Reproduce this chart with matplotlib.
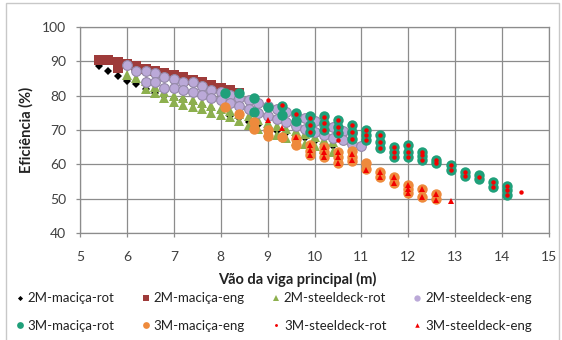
import matplotlib
matplotlib.use("Agg")
import matplotlib.pyplot as plt
from matplotlib.lines import Line2D
from matplotlib.patches import Rectangle

plt.rcParams['font.family'] = ['Lato', 'DejaVu Sans']

# ---------------- data ----------------
labels = ["2M-maciça-rot", "2M-maciça-eng", "2M-steeldeck-rot", "2M-steeldeck-eng",
          "3M-maciça-rot", "3M-maciça-eng", "3M-steeldeck-rot", "3M-steeldeck-eng"]

m2_rot_x = [5.4, 5.6, 5.8, 6.0, 6.2, 6.4, 6.6, 6.8, 7.0, 7.2, 7.4, 7.6, 7.8, 8.0, 8.2,
            8.4, 8.6, 8.8, 9.0, 9.2, 9.4, 9.6, 9.8, 10.0, 10.2, 10.4]
m2_rot_y = [88.5, 87.2, 85.8, 84.3, 83.3, 81.8, 80.8, 79.8, 79.0, 78.6, 77.8, 77.0, 76.0,
            75.2, 74.2, 73.4, 72.4, 71.6, 70.6, 69.8, 69.0, 68.2, 67.6, 66.8, 66.0, 65.4]

m2_eng_x = [5.4, 5.6, 5.8, 5.8, 6.0, 6.2, 6.4, 6.6, 6.8, 7.0, 7.2, 7.4, 7.6, 7.8, 8.0, 8.2, 8.4]
m2_eng_y = [90.3, 90.3, 89.9, 88.0, 89.2, 88.6, 87.9, 87.2, 86.6, 86.0, 85.3, 84.6, 83.9,
            83.1, 82.3, 81.6, 80.8]

s2_rot_x = [6.0, 6.2, 6.4, 6.6, 6.8, 7.0, 7.2, 7.4, 7.6, 7.8, 8.0, 8.2, 8.4, 8.6, 8.8, 9.0,
            9.2, 9.4, 9.6, 9.8, 10.0, 10.2, 10.4,
            6.4, 6.6, 6.8, 7.0, 7.2, 7.4, 7.6, 7.8, 8.0, 8.2, 8.4, 8.6, 8.8, 9.0, 9.2, 9.4,
            9.6, 9.8, 10.0, 10.2, 10.4]
s2_rot_y = [86.0, 85.2, 84.4, 82.6, 81.2, 80.0, 79.4, 78.6, 77.8, 77.0, 76.2, 75.6, 74.8,
            74.0, 73.0, 72.0, 71.2, 70.4, 69.6, 68.8, 68.0, 67.2, 66.4,
            82.0, 80.8, 79.2, 78.2, 77.3, 76.6, 76.0, 74.9, 74.4, 73.8, 72.6, 71.4, 70.2,
            69.4, 68.6, 67.6, 66.8, 66.0, 65.2, 64.4, 63.6]

s2_eng_x = [6.0, 6.2, 6.4, 6.6, 6.8, 7.0, 7.2, 7.4, 7.6, 7.8, 8.0, 8.2, 8.4, 8.6, 8.8, 9.0,
            9.2, 9.4, 9.6, 9.8, 10.0, 10.2, 10.4, 10.6, 10.8,
            6.4, 6.6, 6.8, 7.0, 7.2, 7.4, 7.6, 7.8, 8.0, 8.2, 8.4, 8.6, 8.8, 9.0, 9.2, 9.4,
            9.6, 9.8, 10.0, 10.2, 10.4, 10.6, 10.8, 11.0]
s2_eng_y = [88.9, 87.2, 87.2, 86.6, 85.4, 85.0, 84.0, 84.0, 82.8, 81.6, 81.0, 80.2, 79.4,
            78.6, 77.8, 77.0, 76.0, 75.2, 74.4, 73.4, 72.6, 71.6, 70.8, 69.8, 69.0,
            84.0, 84.0, 82.2, 82.2, 81.6, 81.0, 80.2, 79.3, 78.6, 77.8, 77.0, 76.0, 75.0,
            74.2, 73.2, 72.2, 71.2, 70.2, 69.4, 68.6, 67.8, 67.0, 66.0, 65.2]

m3_rot_x = [8.1, 8.4, 8.7, 8.7, 9.0, 9.3, 9.3, 9.6, 9.6, 9.9, 9.9, 9.9, 10.2, 10.2, 10.2,
            10.5, 10.5, 10.5, 10.8, 10.8, 10.8, 11.1, 11.1, 11.1, 11.4, 11.4, 11.4,
            11.7, 11.7, 11.7, 12.0, 12.0, 12.0, 12.3, 12.3, 12.3, 12.6, 12.6, 12.9, 12.9,
            13.2, 13.2, 13.5, 13.5, 13.8, 13.8, 14.1, 14.1, 14.1]
m3_rot_y = [80.7, 80.7, 79.2, 75.3, 76.8, 77.0, 74.5, 75.0, 72.5, 74.0, 71.5, 69.5, 74.0,
            72.0, 70.0, 73.0, 71.0, 69.0, 71.5, 69.5, 67.5, 70.0, 68.5, 67.0, 68.5, 66.6,
            64.7, 65.1, 63.6, 62.2, 65.6, 63.6, 62.0, 63.6, 62.4, 61.2, 61.4, 60.3, 59.8,
            58.3, 57.8, 56.6, 57.0, 55.6, 54.9, 53.3, 53.6, 52.5, 51.0]

m3_eng_x = [8.1, 8.4, 8.7, 8.7, 9.0, 9.0, 9.3, 9.6, 9.6, 9.9, 9.9, 9.9, 10.2, 10.2, 10.2,
            10.5, 10.5, 10.5, 10.8, 10.8, 10.8, 11.1, 11.1, 11.4, 11.4, 11.7, 11.7,
            12.0, 12.0, 12.0, 12.3, 12.3, 12.6, 12.6]
m3_eng_y = [76.8, 74.6, 72.4, 70.2, 70.0, 68.3, 68.0, 67.5, 65.5, 65.6, 64.0, 62.7, 65.0,
            63.6, 62.2, 63.6, 62.2, 60.3, 64.0, 62.2, 61.0, 60.3, 58.5, 57.8, 56.2, 56.2,
            54.6, 53.9, 52.7, 51.7, 52.7, 50.5, 51.5, 49.8]

s3_rot_x = [9.0, 9.3, 9.6, 9.9, 9.9, 9.9, 10.2, 10.2, 10.2, 10.5, 10.5, 10.5, 10.5,
            10.8, 10.8, 10.8, 11.1, 11.1, 11.1, 11.4, 11.4, 11.4, 11.7, 11.7, 11.7,
            12.0, 12.0, 12.0, 12.3, 12.3, 12.3, 12.6, 12.6, 12.9, 12.9, 13.2, 13.2,
            13.5, 13.8, 13.8, 14.1, 14.1, 14.1, 14.4]
s3_rot_y = [78.7, 77.3, 74.8, 73.4, 71.4, 69.5, 73.9, 71.9, 70.0, 72.9, 70.9, 69.0, 67.1,
            71.4, 69.5, 67.5, 70.0, 68.5, 67.1, 68.5, 66.6, 64.7, 65.1, 63.6, 62.2,
            65.6, 63.6, 62.0, 63.6, 62.7, 61.2, 61.4, 60.3, 59.8, 58.3, 57.8, 56.6,
            56.2, 54.9, 53.3, 53.6, 52.5, 51.0, 51.8]

s3_eng_x = [9.0, 9.3, 9.6, 9.9, 9.9, 9.9, 10.2, 10.2, 10.2, 10.5, 10.5, 10.5, 10.8, 10.8,
            11.1, 11.4, 11.4, 11.7, 11.7, 12.0, 12.0, 12.0, 12.3, 12.3, 12.6, 12.6, 12.9]
s3_eng_y = [72.9, 70.6, 68.0, 65.6, 64.1, 62.7, 65.1, 63.6, 62.2, 63.6, 62.2, 60.3, 63.0,
            61.2, 58.3, 57.8, 56.2, 56.2, 54.6, 53.9, 52.7, 51.7, 52.7, 50.5, 51.5, 49.6,
            49.3]

x_ticks = [5, 6, 7, 8, 9, 10, 11, 12, 13, 14, 15]
y_ticks = [40, 50, 60, 70, 80, 90, 100]

series = [
    (m2_rot_x, m2_rot_y, dict(marker='D', ms=4.0, mfc='#000000', mec='#000000', mew=0)),
    (m2_eng_x, m2_eng_y, dict(marker='s', ms=7.0, mfc='#9E3B3A', mec='#9E3B3A', mew=0)),
    (s2_rot_x, s2_rot_y, dict(marker='^', ms=7.0, mfc='#8DB04E', mec='#8DB04E', mew=0)),
    (s2_eng_x, s2_eng_y, dict(marker='o', ms=7.0, mfc='#BBA9D8', mec='#9488A8', mew=0.8)),
    (m3_rot_x, m3_rot_y, dict(marker='o', ms=7.5, mfc='#1FA07A', mec='#1FA07A', mew=0)),
    (m3_eng_x, m3_eng_y, dict(marker='o', ms=7.5, mfc='#EE8A3C', mec='#EE8A3C', mew=0)),
    (s3_rot_x, s3_rot_y, dict(marker='o', ms=3.2, mfc='#F20000', mec='#F20000', mew=0)),
    (s3_eng_x, s3_eng_y, dict(marker='^', ms=5.0, mfc='#F20000', mec='#F20000', mew=0)),
]

# ---------------- figure ----------------
fig = plt.figure(figsize=(5.62, 3.40), dpi=100)
fig.patch.set_facecolor('white')
fig.add_artist(Rectangle((6 / 562, -0.05), 553 / 562, 1 - 3 / 340 + 0.05,
                         transform=fig.transFigure, fill=False, ec='#C8C8C8', lw=1.0))

ax = fig.add_axes([80 / 562, 1 - 233 / 340, (549 - 80) / 562, (233 - 27) / 340])
for sx, sy, st in series:
    ax.plot(sx, sy, ls='none', **st)

ax.set_xlim(5, 15)
ax.set_ylim(40, 100)
ax.set_xticks(x_ticks)
ax.set_yticks(y_ticks)
ax.grid(True, color='#8C8C8C', lw=0.9)
ax.set_axisbelow(True)
for sp in ax.spines.values():
    sp.set_color('#8C8C8C')
    sp.set_linewidth(0.9)
ax.tick_params(colors='#8C8C8C', labelcolor='#404040', length=3, width=0.9, labelsize=10)
ax.tick_params(axis='x', pad=10)
ax.tick_params(axis='y', pad=7)
ax.set_ylabel('Eficiência (%)', fontsize=10.5, fontweight='bold', color='#222222', labelpad=6)
fig.text(297 / 562, 1 - 279 / 340, 'Vão da viga principal (m)', ha='center', va='center',
         fontsize=10.5, fontweight='bold', color='#222222')

# legend
handles = [Line2D([], [], ls='none', marker=st['marker'], ms=st['ms'] * 0.65,
                  mfc=st['mfc'], mec=st['mec'], mew=0) for _, _, st in series]
order = [0, 4, 1, 5, 2, 6, 3, 7]
leg = fig.legend([handles[i] for i in order], [labels[i] for i in order], ncol=4,
                 loc='lower left', bbox_to_anchor=(8 / 562, 0.0, 532 / 562, 58 / 340),
                 mode='expand', frameon=False, fontsize=9.5, handlelength=0.6,
                 handletextpad=0.3, labelspacing=1.2, borderaxespad=0.2)
for t in leg.get_texts():
    t.set_color('#222222')

fig.savefig('out.png', dpi=100)
